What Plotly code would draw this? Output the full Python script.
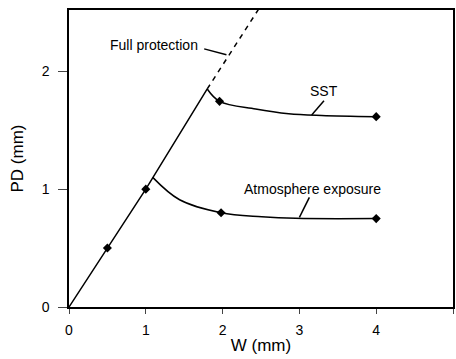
import plotly.graph_objects as go

# Full protection line (solid part with markers, then dashed extension)
fp_w = [0, 0.5, 1.0, 1.80]
fp_pd = [0, 0.5, 1.0, 1.85]
fp_mark_w = [0.5, 1.0]
fp_mark_pd = [0.5, 1.0]
fp_dash_w = [1.80, 2.6]
fp_dash_pd = [1.85, 2.66]

# SST curve
sst_w = [1.80, 1.96, 2.43, 2.86, 3.29, 4.0]
sst_pd = [1.85, 1.745, 1.68, 1.64, 1.625, 1.615]
sst_mark_w = [1.96, 4.0]
sst_mark_pd = [1.745, 1.615]

# Atmosphere exposure curve
atm_w = [1.09, 1.44, 1.98, 2.51, 2.95, 4.0]
atm_pd = [1.10, 0.91, 0.80, 0.766, 0.752, 0.75]
atm_mark_w = [1.98, 4.0]
atm_mark_pd = [0.80, 0.75]

x_ticks = [0, 1, 2, 3, 4, 5]
y_ticks = [0, 1, 2]

FONT = "Liberation Sans, Arial, sans-serif"

fig = go.Figure()
fig.add_trace(go.Scatter(x=fp_w, y=fp_pd, mode="lines",
                         line=dict(color="black", width=1.5), showlegend=False))
fig.add_trace(go.Scatter(x=fp_dash_w, y=fp_dash_pd, mode="lines",
                         line=dict(color="black", width=1.5, dash="5px,5px"), showlegend=False))
fig.add_trace(go.Scatter(x=sst_w, y=sst_pd, mode="lines", line_shape="spline",
                         line=dict(color="black", width=1.5), showlegend=False))
fig.add_trace(go.Scatter(x=atm_w, y=atm_pd, mode="lines", line_shape="spline",
                         line=dict(color="black", width=1.5), showlegend=False))
for mw, mp in [(fp_mark_w, fp_mark_pd), (sst_mark_w, sst_mark_pd), (atm_mark_w, atm_mark_pd)]:
    fig.add_trace(go.Scatter(x=mw, y=mp, mode="markers",
                             marker=dict(symbol="diamond", size=7, color="black"),
                             showlegend=False))

# leader lines
leaders = [
    ((1.76, 2.19), (2.05, 2.14)),
    ((3.32, 1.75), (3.16, 1.63)),
    ((3.13, 0.93), (3.0, 0.76)),
]
for (x0, y0), (x1, y1) in leaders:
    fig.add_shape(type="line", x0=x0, y0=y0, x1=x1, y1=y1,
                  line=dict(color="black", width=1.5))

labels = [("Full protection", 1.11, 2.22), ("SST", 3.315, 1.835), ("Atmosphere exposure", 3.17, 1.0)]
for t, x, y in labels:
    fig.add_annotation(x=x, y=y, text=t, showarrow=False,
                       font=dict(family=FONT, size=14, color="black"))

fig.update_layout(
    width=456, height=359,
    margin=dict(l=69, r=1, t=10, b=52),
    paper_bgcolor="white", plot_bgcolor="white",
    font=dict(family=FONT, size=14, color="black"),
    xaxis=dict(range=[0, 5], tickvals=x_ticks, ticks="outside", ticklen=5,
               ticklabelstandoff=4,
               showline=True, linecolor="black", linewidth=1.5, mirror=True,
               showgrid=False, zeroline=False,
               title=dict(text="W (mm)", standoff=3)),
    yaxis=dict(range=[0, 2.52], tickvals=y_ticks, ticks="outside", ticklen=9,
               ticklabelstandoff=6,
               showline=True, linecolor="black", linewidth=1.5, mirror=True,
               showgrid=False, zeroline=False,
               title=dict(text="PD (mm)", standoff=14)),
)

fig.write_html("out.html")
